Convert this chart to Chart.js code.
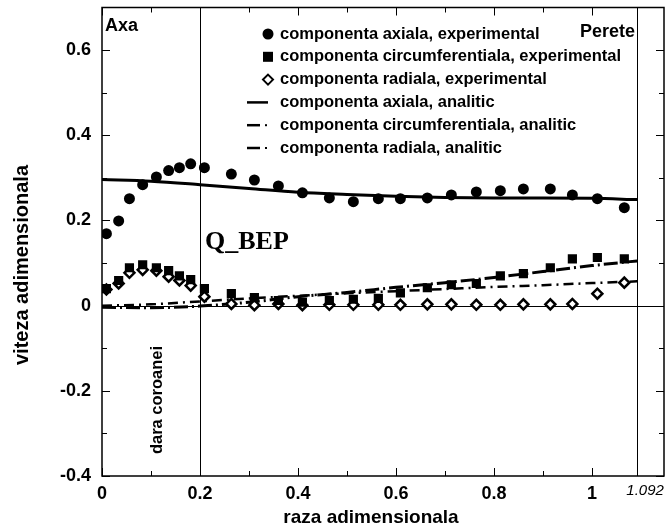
<!DOCTYPE html>
<html>
<head>
<meta charset="utf-8">
<script src="https://cdn.jsdelivr.net/npm/chart.js@4.4.1/dist/chart.umd.min.js"></script>
<style>
  html, body { margin: 0; padding: 0; background: #fff; }
  #wrap { width: 672px; height: 530px; }
</style>
</head>
<body>
<div id="wrap"><canvas id="chart" width="672" height="530"></canvas></div>
<script>
// experimental radii (shared by the three measured components)
const xExp = [0.009, 0.034, 0.056, 0.083, 0.111, 0.136, 0.158, 0.181, 0.209, 0.264, 0.311, 0.360, 0.409,
              0.464, 0.513, 0.564, 0.609, 0.664, 0.713, 0.764, 0.813, 0.860, 0.915, 0.960, 1.011, 1.066];
const axialExp = [0.169, 0.199, 0.251, 0.284, 0.302, 0.317, 0.324, 0.333, 0.324, 0.309, 0.295, 0.281, 0.265,
                  0.253, 0.244, 0.251, 0.251, 0.253, 0.260, 0.267, 0.270, 0.274, 0.274, 0.260, 0.251, 0.230];
const circExp = [0.040, 0.059, 0.089, 0.096, 0.089, 0.082, 0.070, 0.061, 0.040, 0.028, 0.019, 0.012, 0.008,
                 0.012, 0.015, 0.017, 0.030, 0.042, 0.049, 0.052, 0.070, 0.075, 0.089, 0.110, 0.113, 0.110];
const radialExp = [0.038, 0.052, 0.077, 0.084, 0.082, 0.068, 0.059, 0.047, 0.021, 0.004, 0.001, 0.004, 0.001,
                   0.002, 0.002, 0.002, 0.002, 0.003, 0.003, 0.002, 0.002, 0.003, 0.003, 0.004, 0.028, 0.054];

// analytic curves
const xAn = [0, 0.1, 0.2, 0.3, 0.4, 0.5, 0.6, 0.7, 0.8, 0.9, 1.0, 1.092];
const axialAn = [0.296, 0.292, 0.284, 0.275, 0.266, 0.261, 0.257, 0.254, 0.253, 0.253, 0.252, 0.249];
const circAn = [-0.004, -0.005, -0.001, 0.008, 0.021, 0.031, 0.043, 0.054, 0.066, 0.080, 0.094, 0.105];
const radialAn = [0, 0.003, 0.010, 0.017, 0.023, 0.029, 0.034, 0.039, 0.044, 0.048, 0.053, 0.057];

const xTicks = [0, 0.2, 0.4, 0.6, 0.8, 1];
const xMinor = [0.1, 0.3, 0.5, 0.7, 0.9];
const yTicks = [-0.4, -0.2, 0, 0.2, 0.4, 0.6];
const yMinor = [-0.3, -0.1, 0.1, 0.3, 0.5];

const xTitle = "raza adimensionala";
const yTitle = "viteza adimensionala";
const legendLabels = [
    "componenta axiala, experimental",
    "componenta circumferentiala, experimental",
    "componenta radiala, experimental",
    "componenta axiala, analitic",
    "componenta circumferentiala, analitic",
    "componenta radiala, analitic",
];

const pts = (xs, ys) => xs.map((x, i) => ({ x: x, y: ys[i] }));
const SANS = "Arial, 'Liberation Sans', sans-serif";

// frame, inner ticks, reference lines, notes and the legend
const decorations = {
    id: "decorations",
    beforeDatasetsDraw(chart) {
        const { ctx, chartArea: a, scales: { x, y } } = chart;
        ctx.save();
        ctx.strokeStyle = "#000";
        ctx.lineWidth = 1;
        ctx.beginPath();
        [0.2, 1.092].forEach(v => {
            const px = Math.round(x.getPixelForValue(v)) + 0.5;
            ctx.moveTo(px, a.top); ctx.lineTo(px, a.bottom);
        });
        const py0 = Math.round(y.getPixelForValue(0)) + 0.5;
        ctx.moveTo(a.left, py0); ctx.lineTo(a.right, py0);
        ctx.stroke();
        ctx.restore();
    },
    afterDraw(chart) {
        const { ctx, chartArea: a, scales: { x, y } } = chart;
        ctx.save();
        ctx.strokeStyle = "#000";
        ctx.lineWidth = 1.5;
        ctx.strokeRect(a.left, a.top, a.right - a.left, a.bottom - a.top);

        ctx.lineWidth = 1;
        ctx.beginPath();
        const tickX = (v, len) => {
            const px = Math.round(x.getPixelForValue(v)) + 0.5;
            ctx.moveTo(px, a.bottom); ctx.lineTo(px, a.bottom - len);
            ctx.moveTo(px, a.top); ctx.lineTo(px, a.top + len);
        };
        const tickY = (v, len) => {
            const py = Math.round(y.getPixelForValue(v)) + 0.5;
            ctx.moveTo(a.left, py); ctx.lineTo(a.left + len, py);
            ctx.moveTo(a.right, py); ctx.lineTo(a.right - len, py);
        };
        xTicks.forEach(v => tickX(v, 8));
        xMinor.forEach(v => tickX(v, 5));
        yTicks.forEach(v => tickY(v, 8));
        yMinor.forEach(v => tickY(v, 5));
        ctx.stroke();

        // axis titles (the original sits a bit off the plot centre)
        ctx.fillStyle = "#000";
        ctx.textBaseline = "middle";
        ctx.textAlign = "center";
        ctx.font = "bold 19px " + SANS;
        ctx.fillText(xTitle, 371, 518);
        ctx.save();
        ctx.translate(22, 265);
        ctx.rotate(-Math.PI / 2);
        ctx.font = "bold 20px " + SANS;
        ctx.fillText(yTitle, 0, 0);
        ctx.restore();

        // text notes
        ctx.font = "bold 18px " + SANS;
        ctx.textAlign = "left";
        ctx.fillText("Axa", a.left + 3, 26);
        ctx.textAlign = "right";
        ctx.fillText("Perete", x.getPixelForValue(1.092) - 2, 32);

        ctx.font = "italic 15px " + SANS;
        ctx.textAlign = "center";
        ctx.fillText("1.092", x.getPixelForValue(1.092) + 8, 491);

        ctx.font = "bold 26px 'Liberation Serif', 'Times New Roman', serif";
        ctx.textAlign = "left";
        ctx.fillText("Q_BEP", 205, 242);

        ctx.save();
        ctx.translate(157, 400);
        ctx.rotate(-Math.PI / 2);
        ctx.font = "bold 16.5px " + SANS;
        ctx.textAlign = "center";
        ctx.fillText("dara coroanei", 0, 0);
        ctx.restore();

        // legend
        const lx = 268, ly0 = 34, step = 22.8;
        ctx.font = "bold 16.5px " + SANS;
        ctx.textAlign = "left";
        legendLabels.forEach((t, i) => {
            const ly = ly0 + i * step;
            ctx.fillStyle = "#000";
            ctx.fillText(t, lx + 12, ly);
            if (i === 0) {
                ctx.beginPath(); ctx.arc(lx, ly, 5.5, 0, Math.PI * 2); ctx.fill();
            } else if (i === 1) {
                ctx.fillRect(lx - 5, ly - 5, 10, 10);
            } else if (i === 2) {
                ctx.beginPath();
                ctx.moveTo(lx, ly - 5); ctx.lineTo(lx + 5, ly); ctx.lineTo(lx, ly + 5); ctx.lineTo(lx - 5, ly);
                ctx.closePath();
                ctx.fillStyle = "#fff"; ctx.fill();
                ctx.lineWidth = 2; ctx.stroke();
            } else if (i === 3) {
                ctx.lineWidth = 2.5;
                ctx.beginPath(); ctx.moveTo(lx - 21, ly); ctx.lineTo(lx, ly); ctx.stroke();
            } else {
                ctx.lineWidth = 2.5;
                ctx.beginPath(); ctx.moveTo(lx - 21, ly); ctx.lineTo(lx - 8, ly); ctx.stroke();
                ctx.fillRect(lx - 3, ly - 1, 2, 2);
            }
        });
        ctx.restore();
    }
};

new Chart(document.getElementById("chart"), {
    type: "scatter",
    data: {
        datasets: [
            {
                label: legendLabels[0], data: pts(xExp, axialExp),
                pointStyle: "circle", pointRadius: 5.5, backgroundColor: "#000", borderColor: "#000", borderWidth: 0,
            },
            {
                label: legendLabels[1], data: pts(xExp, circExp),
                pointStyle: "rect", pointRadius: 6.5, backgroundColor: "#000", borderColor: "#000", borderWidth: 0,
            },
            {
                label: legendLabels[2], data: pts(xExp, radialExp),
                pointStyle: "rectRot", pointRadius: 5, backgroundColor: "#fff", borderColor: "#000", borderWidth: 2.5,
            },
            {
                label: legendLabels[3], data: pts(xAn, axialAn), showLine: true, pointRadius: 0,
                borderColor: "#000", borderWidth: 3, cubicInterpolationMode: "monotone",
            },
            {
                label: legendLabels[4], data: pts(xAn, circAn), showLine: true, pointRadius: 0,
                borderColor: "#000", borderWidth: 3, borderDash: [14, 4, 2, 4], cubicInterpolationMode: "monotone",
            },
            {
                label: legendLabels[5], data: pts(xAn, radialAn), showLine: true, pointRadius: 0,
                borderColor: "#000", borderWidth: 2.5, borderDash: [10, 5, 2, 5], cubicInterpolationMode: "monotone",
            },
        ],
    },
    options: {
        responsive: false,
        animation: false,
        layout: { padding: { top: 7, right: 8, left: 0, bottom: 0 } },
        plugins: { legend: { display: false }, tooltip: { enabled: false } },
        scales: {
            x: {
                type: "linear", min: 0, max: 1.147,
                afterBuildTicks: s => { s.ticks = xTicks.map(v => ({ value: v })); },
                afterFit: s => { s.height = 54; s.paddingLeft = 0; s.paddingRight = 0; },
                grid: { display: false, drawTicks: false },
                border: { display: false },
                ticks: {
                    color: "#000", padding: 7, maxRotation: 0,
                    font: { family: SANS, size: 18, weight: "bold" },
                    callback: v => String(+v.toFixed(1)),
                },
            },
            y: {
                type: "linear", min: -0.4, max: 0.7,
                afterBuildTicks: s => { s.ticks = yTicks.map(v => ({ value: v })); },
                afterFit: s => { s.width = 102; s.paddingTop = 0; s.paddingBottom = 0; },
                grid: { display: false, drawTicks: false },
                border: { display: false },
                ticks: {
                    color: "#000", padding: 11,
                    font: { family: SANS, size: 18, weight: "bold" },
                    callback: v => String(+v.toFixed(1)),
                },
            },
        },
    },
    plugins: [decorations],
});
</script>
</body>
</html>
